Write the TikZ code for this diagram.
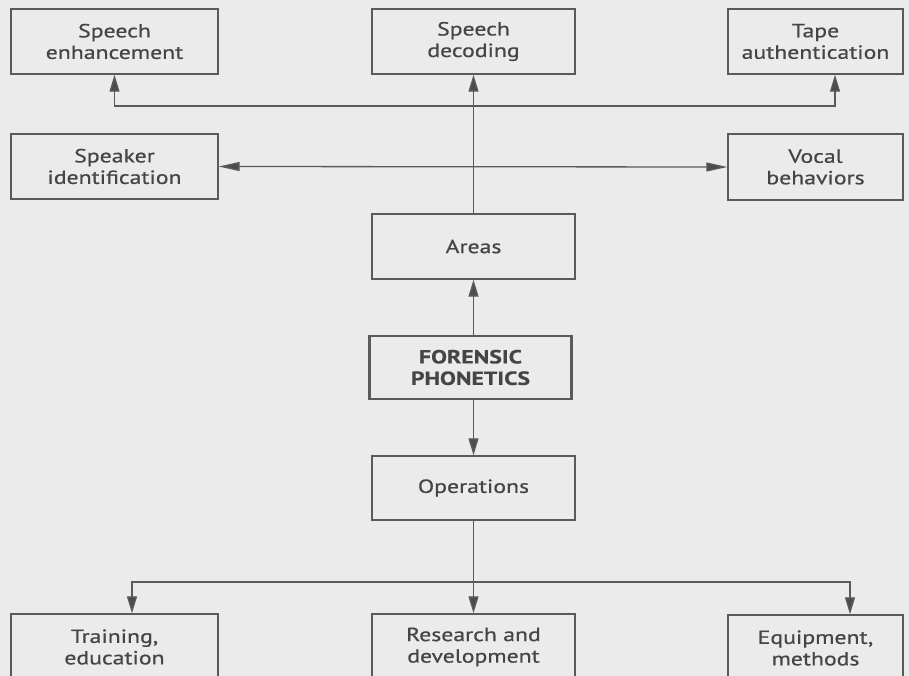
\documentclass[tikz,border=0pt]{standalone}
\usepackage{fontspec}
\setmainfont[FakeStretch=1.25,FakeBold=0.6]{PT Sans}
\usetikzlibrary{arrows.meta}
\definecolor{paper}{HTML}{EBEBEB}
\definecolor{ink}{HTML}{454545}
\definecolor{edge}{HTML}{5A5A5A}
\tikzset{
  box/.style={draw=edge, line width=1.4pt, fill=paper, inner sep=0pt, align=center,
    text=ink, font={\fontsize{19}{21.5}\selectfont}},
  mainbox/.style={box, line width=2.2pt, font={\fontsize{19}{21.5}\selectfont\bfseries}},
  conn/.style={draw=edge, line width=1.3pt},
  tip/.tip={Triangle[length=17pt,width=10pt,fill=edge!85!black]},
  htip/.tip={Triangle[length=21pt,width=9pt,fill=edge!85!black]},
}
\begin{document}
\begin{tikzpicture}[x=1pt,y=-1pt]
\fill[paper] (0,0) rectangle (909,676);
\useasboundingbox (0,0) rectangle (909,676);
\clip (0,0) rectangle (909,676);
% top row
\node[box, minimum width=207pt, minimum height=65pt] (enh) at (114.5,41.5) {Speech\\enhancement};
\node[box, minimum width=203pt, minimum height=65pt] (dec) at (473.5,41.5) {Speech\\decoding};
\node[box, minimum width=175pt, minimum height=65pt] (tape) at (815.5,41.5) {Tape\\authentication};
% second row
\node[box, minimum width=207pt, minimum height=65pt] (spk) at (114.5,166.5) {Speaker\\identification};
\node[box, minimum width=175pt, minimum height=66pt] (voc) at (815.5,167) {Vocal\\behaviors};
% centre column
\node[box, minimum width=203pt, minimum height=65pt] (areas) at (473.5,246.5) {Areas};
\node[mainbox, minimum width=202pt, minimum height=63pt] (for) at (470.5,367.5) {FORENSIC\\PHONETICS};
\node[box, minimum width=203pt, minimum height=64pt] (ops) at (473.5,488) {Operations};
% bottom row
\node[box, minimum width=207pt, minimum height=66pt] (tr) at (114.5,647) {Training,\\education};
\node[box, minimum width=203pt, minimum height=66pt] (rd) at (473.5,647) {Research and\\development};
\node[box, minimum width=175pt, minimum height=66pt] (eq) at (815.5,648) {Equipment,\\methods};
% connector corners
\coordinate (tl) at (114.5,106);
\coordinate (trr) at (835,106);
\coordinate (bl) at (132,582);
\coordinate (br) at (850,582);
% connectors
\draw[conn, -tip] (areas.north) -- (dec.south);
\draw[conn, tip-tip] (enh.south) -- (tl) -- (trr) -- (trr |- tape.south);
\draw[conn, htip-htip] (spk.east) -- (voc.west);
\draw[conn, -tip] (for.north -| areas.south) -- (areas.south);
\draw[conn, -tip] (for.south -| ops.north) -- (ops.north);
\draw[conn, -tip] (ops.south) -- (rd.north);
\draw[conn, tip-tip] (bl |- tr.north) -- (bl) -- (br) -- (br |- eq.north);
\end{tikzpicture}
\end{document}
